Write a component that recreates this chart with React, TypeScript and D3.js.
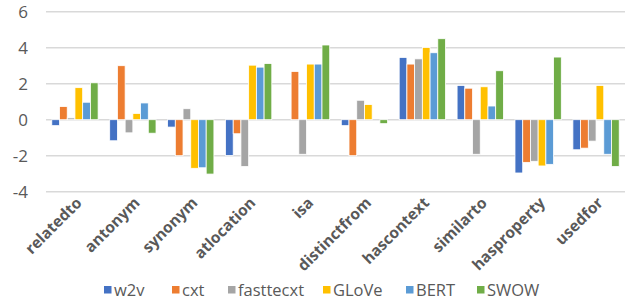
import React, { useEffect, useRef } from "react";
import * as d3 from "d3";

const categories = [
  "relatedto", "antonym", "synonym", "atlocation", "isa",
  "distinctfrom", "hascontext", "similarto", "hasproperty", "usedfor",
];
const seriesNames = ["w2v", "cxt", "fasttecxt", "GLoVe", "BERT", "SWOW"];
const seriesColors = ["#4472C4", "#ED7D31", "#A5A5A5", "#FFC000", "#5B9BD5", "#70AD47"];

// values per series, in category order
const w2v = [-0.33, -1.17, -0.41, -1.99, 0, -0.33, 3.46, 1.9, -2.96, -1.67];
const cxt = [0.73, 3.0, -2.0, -0.78, 2.68, -2.0, 3.09, 1.75, -2.37, -1.58];
const fasttecxt = [0.1, -0.73, 0.61, -2.6, -1.92, 1.08, 3.38, -1.92, -2.31, -1.19];
const glove = [1.78, 0.35, -2.7, 3.03, 3.09, 0.84, 4.01, 1.83, -2.57, 1.9];
const bert = [0.97, 0.93, -2.67, 2.92, 3.09, 0, 3.72, 0.76, -2.48, -1.92];
const swow = [2.05, -0.75, -3.02, 3.12, 4.15, -0.22, 4.5, 2.72, 3.48, -2.6];
const series = [w2v, cxt, fasttecxt, glove, bert, swow];

const yTicks = [-4, -2, 0, 2, 4, 6];

const App: React.FC = () => {
  const svgRef = useRef<SVGSVGElement | null>(null);

  useEffect(() => {
    if (!svgRef.current) return;
    const width = 632;
    const height = 301;
    const svg = d3.select(svgRef.current).attr("width", width).attr("height", height);
    svg.selectAll("*").remove();

    const font = "'Open Sans', 'Liberation Sans', sans-serif";
    const textColor = "#595959";

    const x0 = d3.scaleBand().domain(categories).range([46, 625]).paddingInner(0.2).paddingOuter(0.1);
    const x1 = d3.scaleBand().domain(seriesNames).range([0, x0.bandwidth()]);
    const y = d3.scaleLinear().domain([-4, 6]).range([191.7, 11.7]);

    // gridlines
    svg.append("g")
      .selectAll("line")
      .data(yTicks)
      .enter()
      .append("line")
      .attr("x1", 46)
      .attr("x2", 625)
      .attr("y1", d => y(d))
      .attr("y2", d => y(d))
      .attr("stroke", "#d9d9d9")
      .attr("stroke-width", 1.5);

    // y tick labels
    svg.append("g")
      .selectAll("text")
      .data(yTicks)
      .enter()
      .append("text")
      .attr("x", 28)
      .attr("y", d => y(d))
      .attr("dy", "0.36em")
      .attr("text-anchor", "end")
      .attr("font-family", font)
      .attr("font-size", 17)
      .attr("fill", textColor)
      .text(d => String(d));

    // bars
    const groups = svg.append("g")
      .selectAll("g")
      .data(categories)
      .enter()
      .append("g")
      .attr("transform", d => `translate(${x0(d)},0)`);

    groups.selectAll("rect")
      .data((_, i) => series.map((s, j) => ({ name: seriesNames[j], value: s[i], color: seriesColors[j] })))
      .enter()
      .append("rect")
      .attr("x", d => x1(d.name)!)
      .attr("width", x1.bandwidth())
      .attr("y", d => y(Math.max(0, d.value)))
      .attr("height", d => Math.abs(y(d.value) - y(0)))
      .attr("fill", d => d.color)
      .attr("stroke", "#fff")
      .attr("stroke-width", 0.8);

    // category labels
    svg.append("g")
      .selectAll("text")
      .data(categories)
      .enter()
      .append("text")
      .attr("transform", d => `translate(${x0(d)! + x0.bandwidth() / 2 + 4},200) rotate(-45)`)
      .attr("text-anchor", "end")
      .attr("dy", "0.35em")
      .attr("font-family", font)
      .attr("font-weight", "bold")
      .attr("font-size", 15.5)
      .attr("fill", textColor)
      .text(d => d);

    // legend
    const legendX = [104, 172, 228, 323, 406, 477];
    const legend = svg.append("g")
      .selectAll("g")
      .data(seriesNames)
      .enter()
      .append("g")
      .attr("transform", (_, i) => `translate(${legendX[i]},286)`);
    legend.append("rect")
      .attr("width", 7.5)
      .attr("height", 7.5)
      .attr("fill", (_, i) => seriesColors[i]);
    legend.append("text")
      .attr("x", 10)
      .attr("y", 4)
      .attr("dy", "0.36em")
      .attr("font-family", font)
      .attr("font-size", 16.5)
      .attr("fill", textColor)
      .text(d => d);
  }, []);

  return (
    <div style={{ position: "absolute", left: 0, top: 0 }}>
      <svg ref={svgRef}></svg>
    </div>
  );
};

export default App;
